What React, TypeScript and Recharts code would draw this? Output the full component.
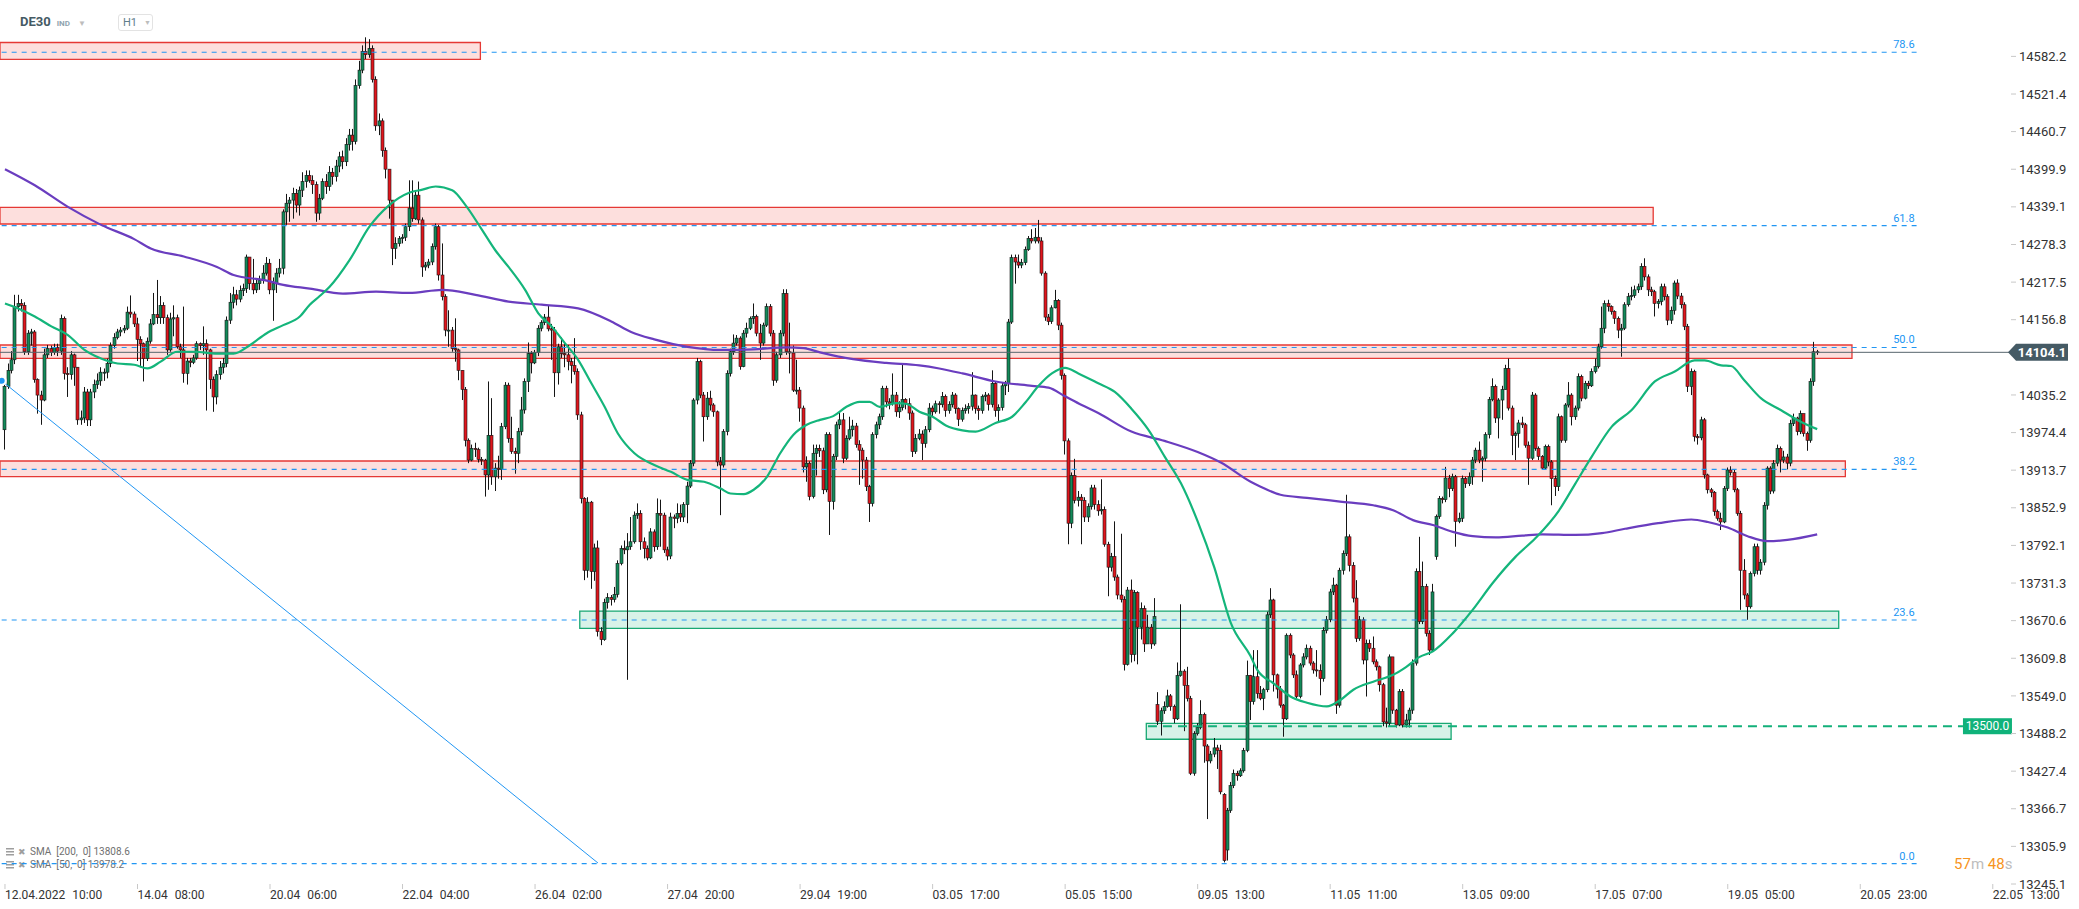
import React from 'react';
import { ComposedChart, Bar, Line, XAxis, YAxis, ReferenceLine, ReferenceArea } from 'recharts';

// hourly candles, 12.04.2022 10:00 -> 20.05 (index 0..547)
const OPEN = [
  13979,14049,14075,14092,14178,14183,14180,14105,14135,14137,
  14060,14035,14027,14100,14110,14104,14112,14106,14159,14070,
  14068,14100,14080,13995,13998,14040,13995,14040,14052,14058,
  14072,14072,14086,14115,14128,14137,14140,14143,14169,14166,
  14150,14125,14118,14094,14122,14150,14165,14160,14180,14160,
  14108,14158,14160,14113,14108,14070,14090,14088,14095,14118,
  14115,14118,14108,14060,14032,14068,14080,14086,14156,14185,
  14197,14190,14204,14207,14258,14215,14205,14215,14220,14232,
  14248,14205,14215,14232,14240,14331,14345,14350,14361,14342,
  14366,14380,14390,14382,14375,14329,14353,14380,14372,14395,
  14388,14405,14420,14412,14440,14455,14445,14535,14560,14590,
  14585,14595,14545,14470,14478,14430,14400,14350,14272,14280,
  14288,14290,14307,14337,14320,14358,14318,14242,14245,14250,
  14275,14307,14229,14194,14140,14140,14110,14108,14075,14044,
  13962,13930,13949,13947,13931,13930,13906,13970,13903,13917,
  13915,13984,14051,13965,13944,13941,13976,14011,14057,14102,
  14087,14104,14143,14152,14161,14142,14140,14071,14113,14102,
  14100,14089,14083,14073,14003,13868,13752,13862,13750,13788,
  13653,13640,13700,13708,13705,13713,13763,13787,13785,13790,
  13798,13841,13844,13798,13787,13772,13814,13790,13844,13841,
  13785,13775,13838,13836,13844,13838,13858,13888,13925,14027,
  14089,14035,14000,14030,14019,14008,13927,13922,13976,14070,
  14105,14119,14127,14081,14135,14143,14159,14162,14135,14119,
  14148,14178,14135,14059,14100,14135,14199,14105,14103,14043,
  14043,14014,13919,13925,13871,13941,13949,13945,13882,13971,
  13863,13936,13987,13995,13933,13965,13979,13985,13955,13946,
  13930,13887,13860,13971,13987,14000,14046,14024,14021,14035,
  14008,14015,14028,14021,14006,13944,13965,13972,13957,13979,
  14014,14008,14021,14020,14033,14010,14020,14035,14013,13996,
  14010,14013,14017,14035,14013,14010,14033,14035,14020,14054,
  14010,14015,14050,14054,14153,14257,14250,14245,14249,14270,
  14288,14284,14290,14284,14232,14161,14154,14176,14188,14148,
  14067,13961,13828,13905,13865,13870,13865,13838,13855,13885,
  13858,13848,13850,13794,13757,13774,13741,13712,13705,13600,
  13720,13616,13716,13660,13690,13633,13660,13633,13535,13508,
  13525,13532,13549,13532,13512,13582,13589,13566,13545,13424,
  13488,13498,13519,13468,13444,13455,13465,13461,13390,13300,
  13364,13404,13424,13420,13428,13461,13582,13540,13580,13553,
  13545,13559,13680,13704,13583,13560,13534,13512,13647,13615,
  13583,13548,13599,13612,13626,13602,13591,13590,13577,13655,
  13672,13717,13728,13534,13752,13779,13806,13760,13707,13642,
  13672,13607,13634,13626,13604,13596,13567,13507,13505,13612,
  13526,13502,13556,13502,13510,13526,13602,13750,13669,13726,
  13650,13623,13774,13839,13868,13866,13901,13884,13903,13831,
  13836,13900,13892,13903,13930,13946,13930,13933,13971,14028,
  14049,13998,14027,14044,14078,14014,13970,13973,13990,13987,
  13954,13933,14035,13949,13936,13917,13952,13927,13900,13887,
  14000,13962,14019,14035,14000,14014,14065,14030,14054,14050,
  14073,14081,14113,14143,14183,14178,14170,14159,14140,14143,
  14181,14194,14196,14205,14210,14243,14226,14205,14202,14183,
  14186,14210,14194,14156,14172,14216,14195,14181,14146,14049,
  14073,13968,13966,13995,13906,13882,13878,13847,13836,13830,
  13884,13914,13910,13882,13844,13752,13712,13693,13747,13790,
  13752,13765,13857,13917,13880,13925,13949,13930,13935,13925,
  13989,13998,13976,14005,13973,13962,14057,14105,
];

const HIGH = [
  14055,14086,14106,14197,14197,14190,14185,14140,14142,14140,
  14062,14042,14110,14116,14115,14118,14118,14165,14162,14080,
  14106,14102,14080,14010,14048,14045,14045,14060,14070,14080,
  14078,14094,14120,14135,14142,14145,14148,14178,14196,14170,
  14160,14130,14120,14128,14158,14200,14221,14195,14185,14165,
  14168,14180,14165,14118,14178,14095,14095,14100,14122,14120,
  14146,14125,14110,14065,14075,14090,14095,14162,14200,14210,
  14205,14212,14215,14262,14258,14255,14222,14228,14245,14258,
  14255,14225,14240,14255,14335,14360,14355,14370,14368,14372,
  14395,14398,14398,14390,14380,14360,14385,14392,14405,14402,
  14415,14428,14430,14450,14465,14465,14545,14575,14600,14613,
  14610,14600,14550,14490,14482,14435,14392,14318,14290,14292,
  14295,14312,14382,14382,14365,14380,14322,14250,14255,14280,
  14312,14310,14280,14198,14172,14145,14159,14110,14065,14048,
  13965,13955,13958,13950,13935,13932,14057,14030,13925,13937,
  13990,14056,14055,14000,13950,13982,14032,14062,14120,14106,
  14108,14148,14156,14166,14180,14150,14145,14118,14128,14118,
  14116,14095,14127,14078,14008,13870,13870,13864,13795,13800,
  13660,13706,13715,13712,13725,13768,13792,13800,13812,13838,
  13847,13860,13849,13805,13792,13820,13818,13868,13866,13845,
  13790,13845,13842,13860,13858,13862,13895,13930,14030,14095,
  14092,14040,14040,14042,14022,14010,13935,13980,14075,14110,
  14133,14132,14130,14140,14152,14162,14183,14165,14150,14152,
  14183,14182,14140,14105,14140,14206,14206,14152,14115,14092,
  14048,14018,13936,13928,13955,13955,13955,13950,13975,13975,
  13940,13992,14006,14006,13970,14000,13995,13990,13962,13950,
  13935,13890,13975,13992,14005,14050,14050,14030,14070,14040,
  14025,14084,14030,14030,14010,13972,13980,13978,13985,14022,
  14018,14026,14025,14040,14036,14025,14040,14038,14015,14015,
  14020,14022,14072,14036,14018,14036,14040,14038,14075,14056,
  14020,14056,14058,14158,14262,14262,14262,14255,14275,14292,
  14303,14305,14318,14290,14235,14166,14180,14205,14190,14152,
  14070,13965,13910,13932,13880,13875,13870,13860,13890,13890,
  13865,13899,13855,13798,13780,13831,13745,13811,13710,13725,
  13737,13720,13718,13700,13695,13680,13665,13707,13555,13530,
  13540,13559,13552,13535,13603,13697,13592,13596,13549,13492,
  13505,13542,13522,13471,13460,13481,13470,13470,13392,13368,
  13410,13430,13428,13432,13465,13606,13583,13623,13623,13565,
  13562,13685,13723,13706,13585,13565,13536,13650,13650,13618,
  13590,13602,13618,13632,13630,13605,13623,13600,13660,13678,
  13722,13740,13730,13756,13784,13874,13810,13765,13736,13678,
  13676,13640,13640,13645,13608,13598,13570,13530,13616,13612,
  13528,13560,13560,13520,13530,13608,13755,13806,13766,13730,
  13655,13730,13842,13872,13871,13919,13906,13908,13906,13845,
  13905,13903,13910,13935,13950,13960,13936,13975,14032,14062,
  14052,14030,14050,14084,14094,14018,13976,13995,14000,13990,
  13960,14040,14038,13952,13938,13955,13955,13930,13905,14005,
  14002,14022,14056,14038,14018,14070,14068,14058,14058,14078,
  14094,14118,14178,14188,14189,14180,14172,14162,14150,14185,
  14200,14210,14212,14215,14248,14256,14230,14210,14205,14190,
  14215,14215,14198,14178,14220,14222,14200,14185,14150,14078,
  14076,13972,14000,13998,13908,13885,13880,13850,13845,13888,
  13918,13920,13914,13885,13848,13770,13715,13750,13795,13795,
  13770,13862,13920,13920,13930,13955,13952,13945,13940,13995,
  14005,14000,14010,14005,13976,14062,14121,14108,
];

const LOW = [
  13947,14045,14070,14085,14170,14170,14100,14100,14115,14055,
  14005,13987,14025,14095,14098,14100,14098,14100,14060,14032,
  14060,14050,13987,13987,13990,13985,13985,14030,14045,14050,
  14058,14062,14080,14110,14125,14130,14135,14140,14160,14145,
  14090,14080,14057,14090,14118,14148,14150,14150,14150,14100,
  14105,14130,14110,14095,14055,14052,14080,14085,14092,14108,
  14100,14010,14045,14008,14020,14060,14070,14080,14150,14175,
  14180,14185,14195,14200,14205,14198,14200,14205,14215,14228,
  14198,14155,14200,14225,14230,14310,14315,14320,14330,14325,
  14355,14370,14378,14360,14315,14318,14350,14360,14365,14375,
  14380,14395,14400,14405,14430,14430,14440,14530,14555,14578,
  14580,14540,14462,14455,14420,14385,14320,14245,14255,14275,
  14280,14284,14300,14315,14318,14312,14226,14236,14240,14245,
  14270,14220,14188,14130,14113,14105,14089,14059,14027,13952,
  13925,13928,13935,13926,13922,13871,13882,13890,13880,13900,
  13898,13980,13958,13940,13908,13925,13970,14005,14040,14070,
  14085,14098,14138,14148,14138,14092,14032,14052,14095,14080,
  14075,14054,14068,13995,13860,13736,13740,13722,13735,13645,
  13631,13638,13690,13695,13700,13708,13760,13778,13575,13785,
  13795,13835,13785,13771,13768,13770,13782,13785,13790,13780,
  13768,13770,13820,13828,13830,13830,13828,13885,13920,14020,
  14030,13960,13995,14010,14000,13920,13841,13918,13970,14065,
  14100,14115,14076,14080,14128,14140,14150,14130,14092,14115,
  14145,14130,14050,14055,14095,14130,14100,14070,14040,14036,
  13992,13910,13895,13865,13868,13905,13935,13875,13878,13809,
  13850,13930,13980,13925,13930,13962,13968,13950,13890,13900,
  13880,13830,13855,13965,13980,13995,14015,14012,14018,14000,
  13998,14010,14012,13995,13935,13940,13962,13930,13950,13975,
  14000,14005,14005,14015,14000,14005,14015,14005,13985,13992,
  14005,14005,14010,14005,13995,14005,14025,14010,14015,14000,
  13990,14010,14035,14040,14150,14215,14240,14240,14245,14268,
  14280,14280,14280,14228,14155,14148,14150,14175,14140,14060,
  13939,13794,13820,13860,13855,13794,13830,13830,13850,13850,
  13840,13842,13790,13710,13750,13735,13705,13700,13590,13598,
  13603,13605,13600,13640,13620,13640,13625,13630,13502,13485,
  13520,13530,13525,13505,13510,13580,13492,13540,13421,13420,
  13485,13495,13441,13350,13440,13450,13431,13390,13280,13283,
  13360,13400,13412,13418,13425,13458,13510,13535,13545,13542,
  13526,13555,13675,13556,13545,13530,13483,13510,13610,13578,
  13545,13545,13595,13608,13598,13585,13580,13550,13572,13650,
  13668,13712,13520,13530,13745,13775,13750,13700,13636,13638,
  13600,13548,13620,13600,13590,13556,13500,13498,13500,13520,
  13498,13500,13498,13498,13498,13520,13598,13665,13665,13645,
  13615,13620,13769,13835,13860,13862,13870,13880,13790,13828,
  13830,13885,13888,13890,13925,13925,13895,13928,13965,14025,
  13990,13965,13995,14044,14010,13938,13930,13950,13982,13950,
  13890,13930,13945,13930,13915,13915,13920,13857,13872,13880,
  13958,13958,14015,13986,13995,14010,14025,14028,14045,14048,
  14070,14078,14110,14135,14170,14165,14150,14127,14097,14140,
  14178,14188,14192,14200,14205,14220,14195,14195,14162,14175,
  14180,14188,14148,14150,14165,14190,14175,14140,14040,14035,
  13960,13955,13962,13900,13876,13870,13840,13832,13817,13828,
  13880,13905,13878,13840,13688,13705,13672,13690,13742,13745,
  13745,13760,13850,13875,13876,13920,13910,13925,13915,13920,
  13985,13970,13972,13968,13945,13958,14050,14100,
];

const CLOSE = [
  14049,14075,14092,14178,14183,14180,14105,14135,14137,14060,
  14035,14027,14100,14110,14104,14112,14106,14159,14070,14068,
  14100,14080,13995,13998,14040,13995,14040,14052,14058,14072,
  14072,14086,14115,14128,14137,14140,14143,14169,14166,14150,
  14125,14118,14094,14122,14150,14165,14160,14180,14160,14108,
  14158,14160,14113,14108,14070,14090,14088,14095,14118,14115,
  14118,14108,14060,14032,14068,14080,14086,14156,14185,14197,
  14190,14204,14207,14258,14215,14205,14215,14220,14232,14248,
  14205,14215,14232,14240,14331,14345,14350,14361,14342,14366,
  14380,14390,14382,14375,14329,14353,14380,14372,14395,14388,
  14405,14420,14412,14440,14455,14445,14535,14560,14590,14585,
  14595,14545,14470,14478,14430,14400,14350,14272,14280,14288,
  14290,14307,14337,14320,14358,14318,14242,14245,14250,14275,
  14307,14229,14194,14140,14140,14110,14108,14075,14044,13962,
  13930,13949,13947,13931,13930,13906,13970,13903,13917,13915,
  13984,14051,13965,13944,13941,13976,14011,14057,14102,14087,
  14104,14143,14152,14161,14142,14140,14071,14113,14102,14100,
  14089,14083,14073,14003,13868,13752,13862,13750,13788,13653,
  13640,13700,13708,13705,13713,13763,13787,13785,13790,13798,
  13841,13844,13798,13787,13772,13814,13790,13844,13841,13785,
  13775,13838,13836,13844,13838,13858,13888,13925,14027,14089,
  14035,14000,14030,14019,14008,13927,13922,13976,14070,14105,
  14119,14127,14081,14135,14143,14159,14162,14135,14119,14148,
  14178,14135,14059,14100,14135,14199,14105,14103,14043,14043,
  14014,13919,13925,13871,13941,13949,13945,13882,13971,13863,
  13936,13987,13995,13933,13965,13979,13985,13955,13946,13930,
  13887,13860,13971,13987,14000,14046,14024,14021,14035,14008,
  14015,14028,14021,14006,13944,13965,13972,13957,13979,14014,
  14008,14021,14020,14033,14010,14020,14035,14013,13996,14010,
  14013,14017,14035,14013,14010,14033,14035,14020,14054,14010,
  14015,14050,14054,14153,14257,14250,14245,14249,14270,14288,
  14284,14290,14284,14232,14161,14154,14176,14188,14148,14067,
  13961,13828,13905,13865,13870,13865,13838,13855,13885,13858,
  13848,13850,13794,13757,13774,13741,13712,13705,13600,13720,
  13616,13716,13660,13690,13633,13660,13633,13677,13508,13525,
  13532,13549,13532,13512,13582,13589,13566,13545,13424,13488,
  13498,13519,13468,13444,13455,13465,13461,13394,13283,13364,
  13404,13424,13420,13428,13461,13582,13540,13580,13553,13545,
  13559,13680,13704,13583,13560,13534,13512,13647,13615,13583,
  13548,13599,13612,13626,13602,13591,13590,13577,13655,13672,
  13717,13728,13534,13752,13779,13806,13760,13707,13642,13672,
  13607,13634,13626,13604,13596,13567,13507,13505,13612,13526,
  13502,13556,13502,13510,13526,13602,13750,13669,13726,13650,
  13623,13717,13839,13868,13866,13901,13884,13903,13831,13836,
  13900,13892,13903,13930,13946,13930,13933,13971,14028,14049,
  13998,14027,14044,14078,14014,13970,13973,13990,13987,13954,
  13933,14035,13949,13936,13917,13952,13927,13900,13887,14000,
  13962,14019,14035,14000,14014,14065,14030,14054,14050,14073,
  14081,14113,14143,14183,14178,14170,14159,14140,14143,14181,
  14194,14196,14205,14210,14243,14226,14205,14202,14183,14186,
  14210,14194,14156,14172,14216,14195,14181,14146,14049,14073,
  13968,13966,13995,13906,13882,13878,13847,13836,13830,13884,
  13914,13910,13882,13844,13752,13712,13693,13747,13790,13752,
  13765,13857,13917,13880,13925,13949,13930,13935,13925,13989,
  13998,13976,14005,13973,13962,14057,14105,14104.1,
];

// moving averages, read at sample candles
const SMA50_AT = [0,4,9,14,19,24,29,34,39,43,47,52,57,64,69,74,79,84,89,92,95,98,104,110,116,122,126,130,135,139,144,148,152,157,161,165,169,173,177,181,185,190,196,201,206,211,216,219,223,226,230,234,238,242,246,250,254,258,261,264,269,272,276,280,284,289,293,299,304,308,312,316,320,324,330,335,340,345,350,355,360,365,370,376,378,383,388,393,399,403,407,413,419,423,427,431,437,443,449,456,462,469,474,479,485,491,498,504,510,513,518,521,525,530,536,542,547];
const SMA50 = [14183,14175,14162,14146,14132,14108,14094,14086,14084,14078,14089,14105,14105,14102,14102,14116,14135,14148,14162,14181,14195,14210,14253,14307,14342,14362,14367,14372,14366,14342,14302,14269,14242,14205,14167,14146,14119,14092,14054,14016,13973,13941,13922,13911,13898,13895,13884,13876,13875,13882,13903,13941,13971,13987,13995,14001,14016,14024,14024,14016,14022,14021,14008,14000,13986,13978,13976,13990,14000,14023,14050,14070,14079,14070,14054,14040,14013,13980,13936,13892,13831,13757,13667,13613,13591,13569,13548,13538,13532,13542,13559,13572,13583,13596,13612,13621,13650,13688,13731,13774,13804,13848,13892,13936,13984,14011,14057,14073,14091,14091,14083,14082,14059,14030,14011,13992,13980];
const SMA200_AT = [0,9,19,29,39,44,54,64,69,79,84,92,102,112,122,132,142,152,162,173,183,189,196,206,216,226,236,241,246,256,266,276,282,289,299,310,315,320,325,330,340,350,360,367,376,379,385,393,403,413,419,425,431,437,443,450,458,464,474,482,489,499,509,514,520,526,532,538,547];
const SMA200 = [14400,14374,14339,14310,14287,14272,14259,14242,14229,14220,14213,14207,14199,14202,14200,14205,14197,14186,14181,14175,14154,14137,14125,14113,14108,14109,14112,14111,14104,14093,14087,14083,14078,14070,14057,14050,14047,14033,14019,14006,13976,13961,13943,13926,13895,13887,13874,13869,13863,13857,13849,13833,13825,13814,13807,13805,13808,13810,13809,13812,13819,13828,13834,13830,13821,13807,13799,13801,13810];

const TREND_AT = [-1, 179];
const TREND = [14058, 13279];

const FIB_LEVELS = ['0.0', '23.6', '38.2', '50.0', '61.8', '78.6'];
const FIB_PRICES = [13278, 13671.6, 13915.1, 14111.9, 14308.7, 14588.9];

const RED_ZONES = [
  { to: 143, lo: 14577.5, hi: 14604.6 },
  { to: 497, lo: 14311.4, hi: 14338.4 },
  { to: 557, lo: 14094.4, hi: 14115.9 },
  { to: 555, lo: 13903.2, hi: 13928.5 },
];
const GREEN_ZONES = [
  { from: 174, to: 553, lo: 13658, hi: 13686 },
  { from: 345, to: 436, lo: 13479, hi: 13504.7 },
];

const X_TICK_AT = [0, 40, 80, 120, 160, 200, 240, 280, 320, 360, 400, 440, 480, 520, 560, 600];
const X_DATES = ['12.04.2022', '14.04', '20.04', '22.04', '26.04', '27.04', '29.04', '03.05', '05.05', '09.05', '11.05', '13.05', '17.05', '19.05', '20.05', '22.05'];
const X_TIMES = ['10:00', '08:00', '06:00', '04:00', '02:00', '20:00', '19:00', '17:00', '15:00', '13:00', '11:00', '09:00', '07:00', '05:00', '23:00', '13:00'];

const Y_TICKS = [14582.2, 14521.4, 14460.7, 14399.9, 14339.1, 14278.3, 14217.5, 14156.8, 14035.2, 13974.4, 13913.7, 13852.9, 13792.1, 13731.3, 13670.6, 13609.8, 13549.0, 13488.2, 13427.4, 13366.7, 13305.9, 13245.1];

const LAST_PRICE = 14104.1;
const ALERT_PRICE = 13500;

const FIRST_SLOT = -1;
const LAST_SLOT = 605;
const FIB_END = 577;
const ALERT_FROM = 345;
const ALERT_END = 591;

const GREEN = '#138a5a';
const RED = '#e0161d';
const FIB_BLUE = '#2196f3';

const rows: any[] = [];
for (let i = FIRST_SLOT; i <= LAST_SLOT; i++) {
  const row: any = { i };
  if (i >= 0 && i < CLOSE.length) {
    const o = OPEN[i];
    const c = CLOSE[i];
    row.o = o;
    row.c = c;
    row.h = Math.max(HIGH[i], o, c);
    row.l = Math.min(LOW[i], o, c);
  }
  rows.push(row);
}
const byIndex = (i: number) => rows[i - FIRST_SLOT];
SMA50_AT.forEach((at, k) => (byIndex(at).sma50 = SMA50[k]));
SMA200_AT.forEach((at, k) => (byIndex(at).sma200 = SMA200[k]));
TREND_AT.forEach((at, k) => (byIndex(at).trend = TREND[k]));

const Candle = (props: any) => {
  const { x, y, width, height, payload } = props;
  if (!payload || payload.c == null) return null;
  const { o, h, l, c } = payload;
  const top = Math.min(y, y + height);
  const span = Math.abs(height);
  const toY = (v: number) => (h === l ? top : top + ((h - v) / (h - l)) * span);
  const cx = Math.floor(x + width / 2) + 0.5;
  const yo = toY(o);
  const yc = toY(c);
  const bodyTop = Math.min(yo, yc);
  const bodyH = Math.max(1, Math.abs(yo - yc));
  const last = payload.i === CLOSE.length - 1;
  const fill = last ? '#777' : c >= o ? GREEN : RED;
  return (
    <g>
      <line x1={cx} x2={cx} y1={top} y2={top + Math.max(span, 1)} stroke="#151515" strokeWidth={1} />
      <rect x={cx - 1.5} y={bodyTop} width={3} height={bodyH} fill={fill} stroke="#151515" strokeWidth={0.6} />
    </g>
  );
};

const XTick = (props: any) => {
  const { x, y, payload } = props;
  const k = X_TICK_AT.indexOf(payload.value);
  if (k < 0) return null;
  return (
    <g>
      <line x1={x} x2={x} y1={y} y2={y + 5} stroke="#c8c8c8" />
      <text x={x} y={y + 15} fill="#333" fontSize={12} fontFamily="Roboto, sans-serif" textAnchor="start">
        <tspan>{X_DATES[k]}</tspan>
        <tspan dx={7}>{X_TIMES[k]}</tspan>
      </text>
    </g>
  );
};

const FibLabel = (props: any) => {
  const { viewBox, text } = props;
  if (!viewBox) return null;
  return (
    <text x={viewBox.x + viewBox.width - 2} y={viewBox.y - 4} textAnchor="end" fill={FIB_BLUE} fontSize={11} fontFamily="Roboto, sans-serif">
      {text}
    </text>
  );
};

const PriceTag = (props: any) => {
  const { viewBox, text } = props;
  if (!viewBox) return null;
  const x0 = viewBox.x + viewBox.width - 3;
  const y = viewBox.y;
  return (
    <g>
      <polygon points={`${x0},${y} ${x0 + 8},${y - 8.5} ${x0 + 60},${y - 8.5} ${x0 + 60},${y + 8.5} ${x0 + 8},${y + 8.5}`} fill="#455a64" />
      <text x={x0 + 34} y={y + 4.5} textAnchor="middle" fill="#fff" fontSize={13} fontWeight="bold" fontFamily="Roboto, sans-serif">
        {text}
      </text>
    </g>
  );
};

const AlertTag = (props: any) => {
  const { viewBox, text } = props;
  if (!viewBox) return null;
  const x0 = viewBox.x + viewBox.width;
  const y = viewBox.y;
  return (
    <g>
      <rect x={x0} y={y - 8} width={49} height={16} fill="#10b27a" />
      <text x={x0 + 24.5} y={y + 4} textAnchor="middle" fill="#fff" fontSize={12} fontFamily="Roboto, sans-serif">
        {text}
      </text>
    </g>
  );
};

const LegendRow = ({ top, text }: { top: number; text: string }) => (
  <div style={{ position: 'absolute', left: 6, top, display: 'flex', alignItems: 'center', gap: 4, fontSize: 10, color: '#707070', fontFamily: "'Liberation Sans Narrow', 'Arial Narrow', Roboto, sans-serif", whiteSpace: 'pre' }}>
    <svg width={8} height={8}>
      <rect x={0} y={0} width={8} height={1.5} fill="#9e9e9e" />
      <rect x={0} y={3} width={8} height={1.5} fill="#9e9e9e" />
      <rect x={0} y={6} width={8} height={1.5} fill="#9e9e9e" />
    </svg>
    <span style={{ color: '#9e9e9e', fontSize: 9 }}>✖</span>
    <span>{text}</span>
  </div>
);

export default function App() {
  return (
    <div style={{ position: 'relative', width: 2079, height: 909, background: '#fff', fontFamily: 'Roboto, sans-serif', overflow: 'hidden' }}>
      <style>{`body{margin:0;}`}</style>

      <LegendRow top={846} text={'SMA  [200,  0] 13808.6'} />
      <LegendRow top={859} text={'SMA  [50,  0] 13978.2'} />

      <div style={{ position: 'absolute', left: 0, top: 0 }}>
        <ComposedChart width={2079} height={909} data={rows} margin={{ top: 0, right: 0, bottom: 0, left: 0 }}>
          <XAxis dataKey="i" type="category" ticks={X_TICK_AT} interval={0} height={25} axisLine={false} tickLine={false} tickSize={0} tickMargin={0} tick={<XTick />} />
          <YAxis
            orientation="right"
            type="number"
            domain={[13245.1, 14673.3]}
            allowDataOverflow
            ticks={Y_TICKS}
            interval={0}
            width={68}
            axisLine={false}
            tickLine={{ stroke: '#c8c8c8' }}
            tickSize={5}
            tickMargin={3}
            tick={{ fill: '#333', fontSize: 13, fontFamily: 'Roboto, sans-serif' }}
            tickFormatter={(v: number) => v.toFixed(1)}
          />

          {RED_ZONES.map((z, k) => (
            <ReferenceArea key={`rz${k}`} x2={z.to} y1={z.lo} y2={z.hi} fill="#f44336" fillOpacity={0.17} stroke="#e53935" strokeWidth={1.3} />
          ))}
          {GREEN_ZONES.map((z, k) => (
            <ReferenceArea key={`gz${k}`} x1={z.from} x2={z.to} y1={z.lo} y2={z.hi} fill="#26b582" fillOpacity={0.18} stroke="#19a873" strokeWidth={1.3} />
          ))}

          {FIB_PRICES.map((p, k) => (
            <ReferenceLine
              key={`fib${k}`}
              segment={[{ x: FIRST_SLOT, y: p }, { x: FIB_END, y: p }]}
              stroke={FIB_BLUE}
              strokeWidth={1.2}
              strokeDasharray="5 5"
              label={<FibLabel text={FIB_LEVELS[k]} />}
            />
          ))}

          <ReferenceLine y={LAST_PRICE} stroke="#56656d" strokeWidth={1} label={<PriceTag text={LAST_PRICE.toFixed(1)} />} />

          <ReferenceLine
            segment={[{ x: ALERT_FROM, y: ALERT_PRICE }, { x: ALERT_END, y: ALERT_PRICE }]}
            stroke="#13b07a"
            strokeWidth={2}
            strokeDasharray="9 6"
            label={<AlertTag text={ALERT_PRICE.toFixed(1)} />}
          />

          <Line dataKey="trend" stroke="#2196f3" strokeWidth={1} dot={false} connectNulls isAnimationActive={false} />

          <Bar dataKey={(d: any) => (d.c == null ? null : [d.l, d.h])} barSize={3} shape={<Candle />} isAnimationActive={false} />

          <Line dataKey="sma200" type="monotone" stroke="#6a3dbf" strokeWidth={2.2} dot={false} connectNulls isAnimationActive={false} />
          <Line dataKey="sma50" type="monotone" stroke="#14b57b" strokeWidth={2.2} dot={false} connectNulls isAnimationActive={false} />
        </ComposedChart>
      </div>

      <div style={{ position: 'absolute', left: 20, top: 14, display: 'flex', alignItems: 'baseline' }}>
        <span style={{ fontSize: 13, fontWeight: 700, color: '#455a64' }}>DE30</span>
        <span style={{ fontSize: 8, fontWeight: 700, color: '#90a4ae', marginLeft: 6 }}>IND</span>
        <span style={{ fontSize: 8, color: '#bdbdbd', marginLeft: 8 }}>▼</span>
      </div>
      <div style={{ position: 'absolute', left: 118, top: 14, width: 33, height: 15, border: '1px solid #e3e3e3', borderRadius: 3, display: 'flex', alignItems: 'center', fontSize: 11, color: '#607d8b' }}>
        <span style={{ marginLeft: 4 }}>H1</span>
        <span style={{ fontSize: 7, color: '#bdbdbd', marginLeft: 7 }}>▼</span>
      </div>

      <div style={{ position: 'absolute', left: 1954, top: 855, fontSize: 15, whiteSpace: 'pre' }}>
        <span style={{ color: '#f7941d' }}>57</span>
        <span style={{ color: '#bdbdbd' }}>m </span>
        <span style={{ color: '#f7941d' }}>48</span>
        <span style={{ color: '#bdbdbd' }}>s</span>
      </div>
    </div>
  );
}
